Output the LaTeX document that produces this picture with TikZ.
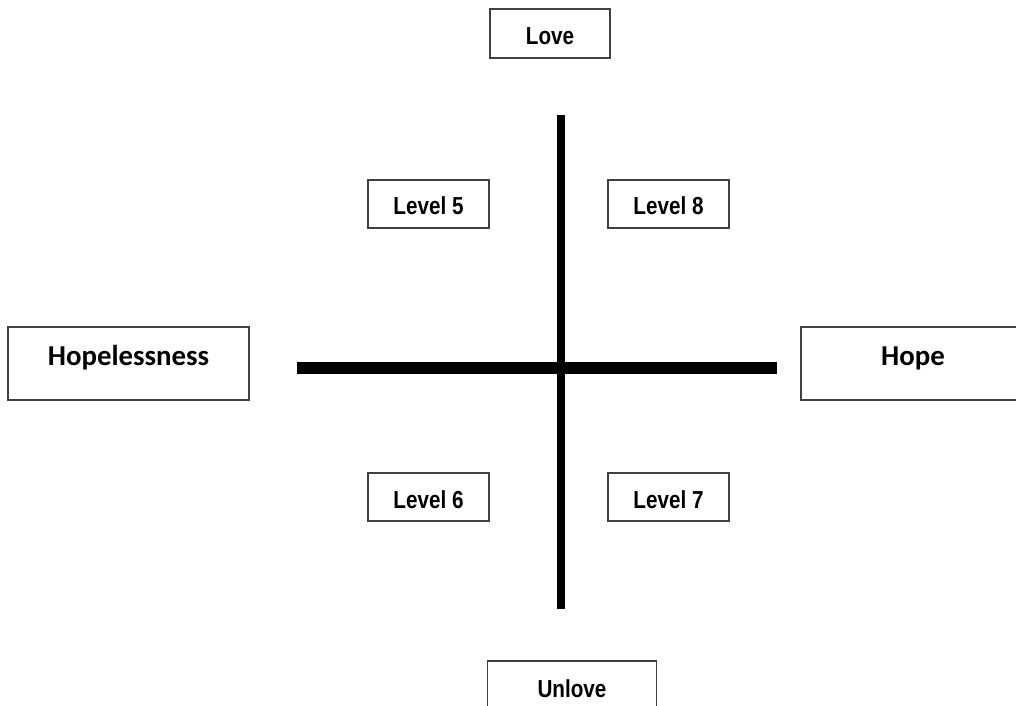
\documentclass[tikz,border=0pt]{standalone}
\usepackage{fontspec}
\usepackage{tikz}
\usetikzlibrary{positioning}
\newfontfamily\narrowfont[FakeStretch=0.84]{Liberation Sans}
\newfontfamily\calibrifont{Carlito}

\begin{document}
\begin{tikzpicture}[x=0.25mm, y=-0.25mm,
  box/.style={draw=black!75, line width=0.3mm, inner sep=0pt, fill=white},
  lvl/.style={box, minimum width=30.25mm, minimum height=12mm,
    font=\narrowfont\bfseries\fontsize{17.5}{20}\selectfont, text height=5.5mm, text depth=0mm},
  side/.style={box, minimum height=18.25mm,
    font=\calibrifont\bfseries\fontsize{20.5}{24}\selectfont, text height=4.5mm, text depth=3.4mm}]

\useasboundingbox (0,0) rectangle (1016,706);

% the two axes
\coordinate (top) at (561,115);
\coordinate (bottom) at (561,609);
\coordinate (left) at (297,368);
\coordinate (right) at (777,368);
\draw[line width=2mm] (top) -- (bottom);
\draw[line width=3mm] (left) -- (right);

% ends of the axes
\node[lvl, minimum width=30mm, minimum height=12.25mm] (love) at (550,33.5) {Love};
\node[lvl, minimum width=42.25mm, minimum height=12.5mm] (unlove) at (572,686) {Unlove};
\node[side, minimum width=60.25mm] (hopeless) at (128.5,363.5) {Hopelessness};
\node[side, minimum width=56mm] (hope) at (913,363.5) {Hope};

% quadrants
\node[lvl] (l5) at (428.5,204) {Level 5};
\node[lvl] (l8) at (668.5,204) {Level 8};
\node[lvl] (l6) at (428.5,497) {Level 6};
\node[lvl] (l7) at (668.5,497) {Level 7};
\end{tikzpicture}
\end{document}
